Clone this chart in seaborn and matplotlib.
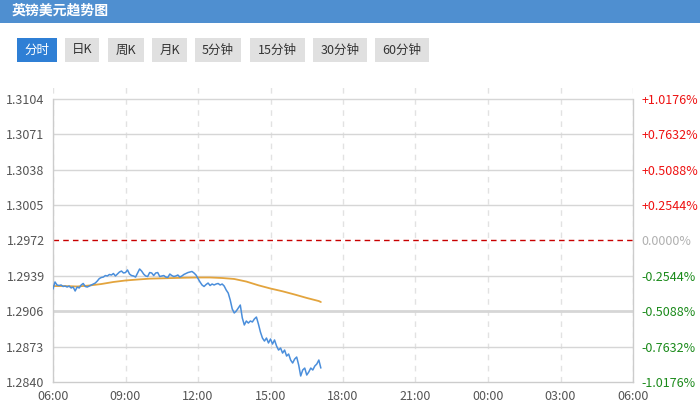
import numpy as np
import pandas as pd
import matplotlib.pyplot as plt
import seaborn as sns
from matplotlib.patches import Rectangle

# minutes after 06:00, 5-minute samples of GBP/USD
price_minutes = list(range(0, 670, 5))
price = [
    1.29267, 1.29333, 1.29305, 1.29300, 1.29305, 1.29291, 1.29295, 1.29286,
    1.29295, 1.29277, 1.29286, 1.29249, 1.29286, 1.29277, 1.29305, 1.29319,
    1.29291, 1.29286, 1.29295, 1.29305, 1.29314, 1.29323, 1.29342, 1.29365,
    1.29375, 1.29379, 1.29393, 1.29389, 1.29403, 1.29398, 1.29412, 1.29389,
    1.29407, 1.29426, 1.29435, 1.29417, 1.29421, 1.29445, 1.29407, 1.29393,
    1.29389, 1.29379, 1.29417, 1.29454, 1.29435, 1.29407, 1.29389, 1.29384,
    1.29421, 1.29417, 1.29393, 1.29417, 1.29421, 1.29384, 1.29389, 1.29393,
    1.29379, 1.29375, 1.29407, 1.29393, 1.29384, 1.29389, 1.29398, 1.29379,
    1.29389, 1.29403, 1.29412, 1.29421, 1.29426, 1.29431, 1.29417, 1.29398,
    1.29365, 1.29333, 1.29305, 1.29291, 1.29309, 1.29323, 1.29300, 1.29314,
    1.29305, 1.29314, 1.29319, 1.29305, 1.29314, 1.29295, 1.29258, 1.29230,
    1.29165, 1.29081, 1.29044, 1.29062, 1.29090, 1.29118, 1.28997, 1.28932,
    1.28969, 1.28950, 1.28969, 1.28960, 1.28988, 1.29006, 1.28941, 1.28866,
    1.28810, 1.28782, 1.28810, 1.28764, 1.28801, 1.28754, 1.28792, 1.28736,
    1.28698, 1.28717, 1.28670, 1.28698, 1.28642, 1.28661, 1.28605, 1.28577,
    1.28614, 1.28633, 1.28558, 1.28456, 1.28512, 1.28530, 1.28465, 1.28493,
    1.28530, 1.28512, 1.28549, 1.28568, 1.28605, 1.28530,
]

# average price line, 30-minute samples
avg_minutes = list(range(0, 661, 30)) + [665]
avg_price = [
    1.29295, 1.29295, 1.29291, 1.29300, 1.29314, 1.29333, 1.29347, 1.29356,
    1.29364, 1.29367, 1.29370, 1.29373, 1.29375, 1.29375, 1.29370, 1.29361,
    1.29337, 1.29302, 1.29272, 1.29246, 1.29216, 1.29184, 1.29155, 1.29146,
]

prev_close = 1.2972
y_ticks = [1.2840, 1.2873, 1.2906, 1.2939, 1.2972, 1.3005, 1.3038, 1.3071, 1.3104]
pct_labels = ["-1.0176%", "-0.7632%", "-0.5088%", "-0.2544%", "0.0000%",
              "+0.2544%", "+0.5088%", "+0.7632%", "+1.0176%"]
x_ticks = list(range(0, 25, 3))
x_labels = ["06:00", "09:00", "12:00", "15:00", "18:00",
            "21:00", "00:00", "03:00", "06:00"]
buttons = ["分时", "日K", "周K", "月K", "5分钟", "15分钟", "30分钟", "60分钟"]

sns.set_style("white")
plt.rcParams["font.family"] = ["Noto Sans CJK SC", "DejaVu Sans"]

W, H = 700, 409
fig = plt.figure(figsize=(W / 100, H / 100), dpi=100)


def box(x0, y0, x1, y1, color):
    fig.add_artist(Rectangle((x0 / W, 1 - y1 / H), (x1 - x0) / W, (y1 - y0) / H,
                             transform=fig.transFigure, facecolor=color,
                             edgecolor="none", zorder=0))


# header bar
box(0, 0, W, 22.5, "#4f8fd0")
fig.text(12 / W, 1 - 11 / H, "英镑美元趋势图", color="white", fontsize=10,
         fontweight="bold", va="center", ha="left")

# period buttons
btn_x = [(17, 57), (65, 99), (108, 144), (152, 187), (195, 241),
         (250, 305), (313, 367), (375, 429)]
for i, (label, (x0, x1)) in enumerate(zip(buttons, btn_x)):
    active = i == 0
    box(x0, 38, x1, 62, "#2f7fd5" if active else "#e0e0e0")
    fig.text((x0 + x1) / 2 / W, 1 - 50 / H, label, fontsize=9,
             color="white" if active else "#333333", ha="center", va="center")

ax = fig.add_axes([53 / W, (H - 382) / H, 580 / W, (382 - 87) / H])

df_price = pd.DataFrame({"hour": np.array(price_minutes) / 60, "price": price})
df_avg = pd.DataFrame({"hour": np.array(avg_minutes) / 60, "price": avg_price})

sns.lineplot(data=df_avg, x="hour", y="price", color="#e3a43d", lw=1.3, ax=ax,
             zorder=3)
sns.lineplot(data=df_price, x="hour", y="price", color="#4a8edb", lw=1.1, ax=ax,
             zorder=4)

step = y_ticks[1] - y_ticks[0]
ax.set_xlim(0, 24)
ax.set_ylim(y_ticks[0], y_ticks[-1] + step * 12 / 35.4)

for v in y_ticks[1:]:
    if abs(v - prev_close) < 1e-9:
        continue
    lw = 2.0 if abs(v - 1.2906) < 1e-9 else 1.0
    ax.axhline(v, color="#d6d6d6", lw=lw, zorder=1)
for h in x_ticks:
    ax.axvline(h, color="#e2e2e2", lw=1, ls=(0, (4, 4)), zorder=0)
ax.axhline(prev_close, color="#c80000", lw=1, ls=(0, (4, 3)), zorder=2)

ax.set_xticks(x_ticks)
ax.set_xticklabels(x_labels)
ax.set_yticks(y_ticks)
ax.set_yticklabels([f"{v:.4f}" for v in y_ticks])
ax.set_xlabel("")
ax.set_ylabel("")
ax.tick_params(axis="both", length=0, labelsize=9, labelcolor="#555555")
ax.tick_params(axis="y", pad=6)
ax.tick_params(axis="x", pad=6)

for side in ["left", "right", "bottom"]:
    ax.spines[side].set_color("#cccccc")
    ax.spines[side].set_linewidth(1)
ax.spines["left"].set_bounds(y_ticks[0], y_ticks[-1])
ax.spines["right"].set_bounds(y_ticks[0], y_ticks[-1])
ax.spines["top"].set_visible(False)

ax2 = ax.twinx()
ax2.set_ylim(ax.get_ylim())
ax2.set_yticks(y_ticks)
ax2.set_yticklabels(pct_labels)
ax2.tick_params(axis="y", length=0, labelsize=9, pad=6)
for lbl, v in zip(ax2.get_yticklabels(), y_ticks):
    if v > prev_close + 1e-9:
        lbl.set_color("#ee1111")
    elif v < prev_close - 1e-9:
        lbl.set_color("#1a8a1a")
    else:
        lbl.set_color("#b0b0b0")
for s in ax2.spines.values():
    s.set_visible(False)

fig.savefig("out.png", dpi=100)
